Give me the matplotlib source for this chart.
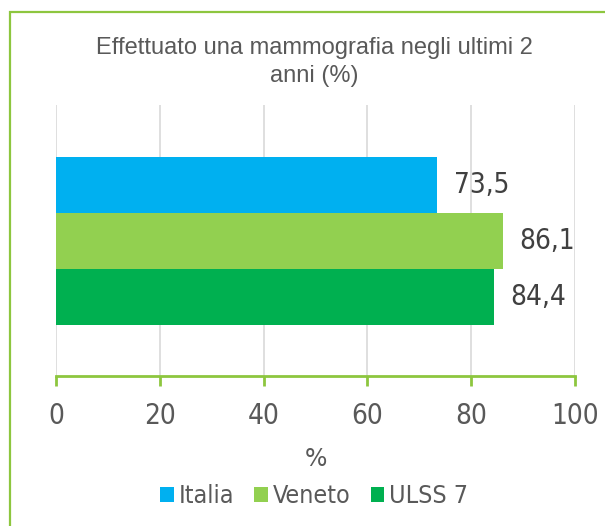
import matplotlib.pyplot as plt
from matplotlib.patches import Rectangle

title = "Effettuato una mammografia negli ultimi 2\nanni (%)"
groups = ["Italia", "Veneto", "ULSS 7"]
values = [73.5, 86.1, 84.4]
colors = ["#00B0F0", "#92D050", "#00B050"]
xticks = [0, 20, 40, 60, 80, 100]

BORDER = "#8DC63F"
TEXT = "#595959"
LABEL_FONT = ["DejaVu Sans"]

fig = plt.figure(figsize=(6.05, 5.26), dpi=100)
fig.patches.append(Rectangle((10 / 605, -0.05), 1.0, 1 - 12 / 526 + 0.05,
                             transform=fig.transFigure, fill=False,
                             edgecolor=BORDER, linewidth=1.6))

ax = fig.add_axes([56 / 605, 1 - 376 / 526, (575 - 56) / 605, (376 - 105) / 526])

pos = list(range(len(groups)))
for p, g, v, c in zip(pos, groups, values, colors):
    ax.barh(p, v, height=1.0, color=c, label=g, zorder=2)
    ax.text(v + 3.2, p, f"{v:.1f}".replace(".", ","), va="center", ha="left",
            fontsize=20, color="#404040", family=LABEL_FONT, fontstretch="condensed")

half = (376 - 105) / 56 / 2
ax.set_ylim(1 + half, 1 - half)
ax.set_xlim(0, 100)
ax.set_xticks(xticks)
ax.set_xticklabels([str(t) for t in xticks], fontsize=20, color=TEXT,
                   family=LABEL_FONT, fontstretch="condensed")
ax.set_yticks([])
ax.grid(axis="x", color="#D9D9D9", linewidth=1.2, zorder=0)
for s in ["top", "right", "left"]:
    ax.spines[s].set_visible(False)
ax.spines["bottom"].set_color(BORDER)
ax.spines["bottom"].set_linewidth(2)
ax.tick_params(axis="x", direction="out", length=7, width=2, color=BORDER, pad=12)
ax.set_xlabel("%", fontsize=17, color=TEXT, family=LABEL_FONT, labelpad=12)

fig.text(314 / 605, 1 - 62 / 526, title, ha="center", va="center",
         fontsize=17, color=TEXT, family="Liberation Sans", linespacing=1.4)

leg = fig.legend(loc="center", bbox_to_anchor=(314 / 605, 1 - 496 / 526), ncol=3,
                 frameon=False, handlelength=0.55, handleheight=0.55,
                 handletextpad=0.2, columnspacing=0.8,
                 prop={"family": LABEL_FONT, "size": 18, "stretch": "condensed"})
for t in leg.get_texts():
    t.set_color(TEXT)

fig.savefig("out.png", dpi=100)
